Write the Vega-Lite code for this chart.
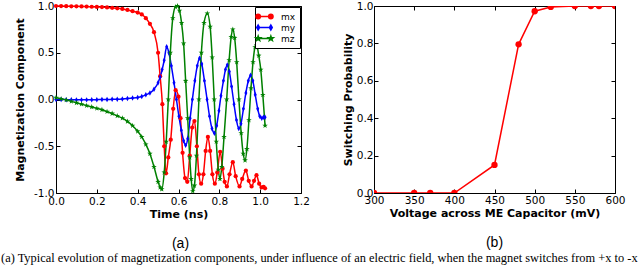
{
  "$schema": "https://vega.github.io/schema/vega-lite/v6.json",
  "background": "white",
  "padding": {"left": 1, "top": 0, "right": 0, "bottom": 0},
  "spacing": 31,
  "resolve": {"scale": {"color": "independent"}, "legend": {"color": "independent"}},
  "title": {
    "text": "(a) Typical evolution of magnetization components, under influence of an electric field, when the magnet switches from +x to -x",
    "orient": "bottom", "anchor": "start", "frame": "bounds",
    "font": "Liberation Serif", "fontSize": 12.4, "fontWeight": "normal", "color": "black",
    "offset": 1, "dx": -13
  },
  "datasets": {
    "mag": [
      {"t":0,"c":"mx","v":1.0},{"t":0.025,"c":"mx","v":0.999},{"t":0.05,"c":"mx","v":0.998},{"t":0.075,"c":"mx","v":0.997},{"t":0.1,"c":"mx","v":0.996},{"t":0.125,"c":"mx","v":0.995},{"t":0.15,"c":"mx","v":0.994},{"t":0.175,"c":"mx","v":0.992},{"t":0.2,"c":"mx","v":0.99},{"t":0.225,"c":"mx","v":0.988},{"t":0.25,"c":"mx","v":0.985},{"t":0.275,"c":"mx","v":0.98},{"t":0.3,"c":"mx","v":0.975},{"t":0.325,"c":"mx","v":0.968},{"t":0.35,"c":"mx","v":0.958},{"t":0.375,"c":"mx","v":0.945},{"t":0.4,"c":"mx","v":0.93},{"t":0.42,"c":"mx","v":0.91},{"t":0.44,"c":"mx","v":0.87},{"t":0.46,"c":"mx","v":0.81},{"t":0.48,"c":"mx","v":0.72},{"t":0.5,"c":"mx","v":0.5},{"t":0.51,"c":"mx","v":0.25},{"t":0.521,"c":"mx","v":-0.05},{"t":0.53,"c":"mx","v":-0.5},{"t":0.539,"c":"mx","v":-0.79},{"t":0.55,"c":"mx","v":-0.62},{"t":0.562,"c":"mx","v":-0.43},{"t":0.574,"c":"mx","v":-0.1},{"t":0.586,"c":"mx","v":0.1},{"t":0.6,"c":"mx","v":0.03},{"t":0.61,"c":"mx","v":-0.2},{"t":0.62,"c":"mx","v":-0.57},{"t":0.632,"c":"mx","v":-0.84},{"t":0.643,"c":"mx","v":-0.88},{"t":0.655,"c":"mx","v":-0.6},{"t":0.667,"c":"mx","v":-0.3},{"t":0.678,"c":"mx","v":-0.23},{"t":0.69,"c":"mx","v":-0.5},{"t":0.7,"c":"mx","v":-0.8},{"t":0.711,"c":"mx","v":-0.9},{"t":0.722,"c":"mx","v":-0.8},{"t":0.733,"c":"mx","v":-0.55},{"t":0.744,"c":"mx","v":-0.4},{"t":0.755,"c":"mx","v":-0.55},{"t":0.766,"c":"mx","v":-0.8},{"t":0.778,"c":"mx","v":-0.9},{"t":0.79,"c":"mx","v":-0.78},{"t":0.804,"c":"mx","v":-0.56},{"t":0.816,"c":"mx","v":-0.74},{"t":0.826,"c":"mx","v":-0.88},{"t":0.837,"c":"mx","v":-0.93},{"t":0.85,"c":"mx","v":-0.8},{"t":0.866,"c":"mx","v":-0.67},{"t":0.88,"c":"mx","v":-0.82},{"t":0.899,"c":"mx","v":-0.93},{"t":0.912,"c":"mx","v":-0.85},{"t":0.93,"c":"mx","v":-0.76},{"t":0.944,"c":"mx","v":-0.87},{"t":0.958,"c":"mx","v":-0.93},{"t":0.97,"c":"mx","v":-0.87},{"t":0.982,"c":"mx","v":-0.81},{"t":0.995,"c":"mx","v":-0.9},{"t":1.007,"c":"mx","v":-0.94},{"t":1.017,"c":"mx","v":-0.935},{"t":1.024,"c":"mx","v":-0.95},
      {"t":0,"c":"my","v":0.0},{"t":0.025,"c":"my","v":0.0},{"t":0.05,"c":"my","v":-0.002},{"t":0.075,"c":"my","v":-0.003},{"t":0.1,"c":"my","v":-0.004},{"t":0.125,"c":"my","v":-0.004},{"t":0.15,"c":"my","v":-0.004},{"t":0.175,"c":"my","v":-0.003},{"t":0.2,"c":"my","v":-0.002},{"t":0.225,"c":"my","v":0.0},{"t":0.25,"c":"my","v":0.0},{"t":0.275,"c":"my","v":0.002},{"t":0.3,"c":"my","v":0.003},{"t":0.325,"c":"my","v":0.006},{"t":0.35,"c":"my","v":0.01},{"t":0.375,"c":"my","v":0.015},{"t":0.4,"c":"my","v":0.022},{"t":0.42,"c":"my","v":0.033},{"t":0.44,"c":"my","v":0.05},{"t":0.46,"c":"my","v":0.07},{"t":0.48,"c":"my","v":0.11},{"t":0.5,"c":"my","v":0.18},{"t":0.51,"c":"my","v":0.24},{"t":0.52,"c":"my","v":0.32},{"t":0.53,"c":"my","v":0.42},{"t":0.542,"c":"my","v":0.565},{"t":0.553,"c":"my","v":0.5},{"t":0.565,"c":"my","v":0.36},{"t":0.578,"c":"my","v":0.18},{"t":0.59,"c":"my","v":0.0},{"t":0.602,"c":"my","v":-0.18},{"t":0.614,"c":"my","v":-0.33},{"t":0.625,"c":"my","v":-0.44},{"t":0.635,"c":"my","v":-0.49},{"t":0.645,"c":"my","v":-0.42},{"t":0.657,"c":"my","v":-0.2},{"t":0.668,"c":"my","v":0.0},{"t":0.68,"c":"my","v":0.2},{"t":0.692,"c":"my","v":0.36},{"t":0.703,"c":"my","v":0.44},{"t":0.714,"c":"my","v":0.38},{"t":0.727,"c":"my","v":0.2},{"t":0.74,"c":"my","v":0.0},{"t":0.752,"c":"my","v":-0.18},{"t":0.764,"c":"my","v":-0.31},{"t":0.776,"c":"my","v":-0.36},{"t":0.787,"c":"my","v":-0.28},{"t":0.798,"c":"my","v":-0.12},{"t":0.808,"c":"my","v":0.04},{"t":0.82,"c":"my","v":0.2},{"t":0.83,"c":"my","v":0.32},{"t":0.839,"c":"my","v":0.37},{"t":0.849,"c":"my","v":0.3},{"t":0.86,"c":"my","v":0.14},{"t":0.872,"c":"my","v":-0.05},{"t":0.884,"c":"my","v":-0.22},{"t":0.895,"c":"my","v":-0.31},{"t":0.906,"c":"my","v":-0.26},{"t":0.918,"c":"my","v":-0.1},{"t":0.93,"c":"my","v":0.07},{"t":0.942,"c":"my","v":0.2},{"t":0.953,"c":"my","v":0.26},{"t":0.964,"c":"my","v":0.2},{"t":0.976,"c":"my","v":0.05},{"t":0.988,"c":"my","v":-0.1},{"t":0.998,"c":"my","v":-0.18},{"t":1.008,"c":"my","v":-0.2},{"t":1.016,"c":"my","v":-0.19},{"t":1.024,"c":"my","v":-0.19},
      {"t":0,"c":"mz","v":0.02},{"t":0.025,"c":"mz","v":0.007},{"t":0.05,"c":"mz","v":-0.005},{"t":0.075,"c":"mz","v":-0.02},{"t":0.1,"c":"mz","v":-0.035},{"t":0.125,"c":"mz","v":-0.05},{"t":0.15,"c":"mz","v":-0.065},{"t":0.175,"c":"mz","v":-0.08},{"t":0.2,"c":"mz","v":-0.095},{"t":0.225,"c":"mz","v":-0.11},{"t":0.25,"c":"mz","v":-0.13},{"t":0.275,"c":"mz","v":-0.15},{"t":0.3,"c":"mz","v":-0.175},{"t":0.325,"c":"mz","v":-0.2},{"t":0.35,"c":"mz","v":-0.235},{"t":0.375,"c":"mz","v":-0.28},{"t":0.4,"c":"mz","v":-0.34},{"t":0.42,"c":"mz","v":-0.4},{"t":0.44,"c":"mz","v":-0.48},{"t":0.46,"c":"mz","v":-0.58},{"t":0.48,"c":"mz","v":-0.72},{"t":0.5,"c":"mz","v":-0.88},{"t":0.51,"c":"mz","v":-0.94},{"t":0.518,"c":"mz","v":-0.96},{"t":0.53,"c":"mz","v":-0.78},{"t":0.54,"c":"mz","v":-0.45},{"t":0.55,"c":"mz","v":0.0},{"t":0.56,"c":"mz","v":0.5},{"t":0.572,"c":"mz","v":0.87},{"t":0.585,"c":"mz","v":0.99},{"t":0.595,"c":"mz","v":1.0},{"t":0.605,"c":"mz","v":0.95},{"t":0.615,"c":"mz","v":0.82},{"t":0.625,"c":"mz","v":0.6},{"t":0.635,"c":"mz","v":0.2},{"t":0.645,"c":"mz","v":-0.2},{"t":0.655,"c":"mz","v":-0.62},{"t":0.662,"c":"mz","v":-0.85},{"t":0.67,"c":"mz","v":-0.98},{"t":0.678,"c":"mz","v":-0.92},{"t":0.688,"c":"mz","v":-0.6},{"t":0.7,"c":"mz","v":0.0},{"t":0.712,"c":"mz","v":0.5},{"t":0.725,"c":"mz","v":0.82},{"t":0.741,"c":"mz","v":0.92},{"t":0.755,"c":"mz","v":0.78},{"t":0.765,"c":"mz","v":0.45},{"t":0.775,"c":"mz","v":0.0},{"t":0.785,"c":"mz","v":-0.45},{"t":0.795,"c":"mz","v":-0.75},{"t":0.803,"c":"mz","v":-0.85},{"t":0.812,"c":"mz","v":-0.72},{"t":0.823,"c":"mz","v":-0.4},{"t":0.836,"c":"mz","v":0.0},{"t":0.848,"c":"mz","v":0.42},{"t":0.858,"c":"mz","v":0.67},{"t":0.866,"c":"mz","v":0.75},{"t":0.875,"c":"mz","v":0.66},{"t":0.885,"c":"mz","v":0.4},{"t":0.896,"c":"mz","v":0.0},{"t":0.907,"c":"mz","v":-0.36},{"t":0.917,"c":"mz","v":-0.58},{"t":0.926,"c":"mz","v":-0.65},{"t":0.935,"c":"mz","v":-0.53},{"t":0.945,"c":"mz","v":-0.22},{"t":0.955,"c":"mz","v":0.12},{"t":0.965,"c":"mz","v":0.4},{"t":0.975,"c":"mz","v":0.56},{"t":0.983,"c":"mz","v":0.58},{"t":0.993,"c":"mz","v":0.47},{"t":1.003,"c":"mz","v":0.32},{"t":1.013,"c":"mz","v":0.05},{"t":1.024,"c":"mz","v":-0.28}
    ],
    "sw": [
      {"V":300,"P":0},{"V":350,"P":0},{"V":370,"P":0},{"V":400,"P":0},{"V":450,"P":0.15},{"V":480,"P":0.795},{"V":500,"P":0.972},{"V":520,"P":0.995},{"V":550,"P":1},{"V":570,"P":1},{"V":580,"P":1},{"V":600,"P":1}
    ]
  },
  "hconcat": [
    {
      "width": 245,
      "height": 187,
      "title": {"text": "(a)", "orient": "bottom", "anchor": "middle", "frame": "group", "font": "Liberation Sans", "fontSize": 14, "fontWeight": "normal", "color": "black", "offset": 17, "dx": 2},
      "data": {"name": "mag"},
      "layer": [
        {
          "mark": {"type": "line", "interpolate": "monotone", "strokeWidth": 1.5},
          "encoding": {
            "x": {"field": "t", "type": "quantitative", "scale": {"domain": [0, 1.2], "nice": false, "zero": false},
                  "axis": {"title": "Time (ns)", "values": [0, 0.2, 0.4, 0.6, 0.8, 1.0, 1.2], "format": ".1f", "labelFlush": false, "labelPadding": 7, "titlePadding": 2}},
            "y": {"field": "v", "type": "quantitative", "scale": {"domain": [-1, 1], "nice": false, "zero": false},
                  "axis": {"title": "Magnetization Component", "values": [-1, -0.5, 0, 0.5, 1], "format": ".1f", "labelExpr": "replace(datum.label, '\u2212', '-')", "labelPadding": 6, "titlePadding": 8}},
            "color": {"field": "c", "type": "nominal", "scale": {"domain": ["mx", "my", "mz"], "range": ["#ff0000", "#0000ff", "#008000"]},
                      "legend": {"title": null, "orient": "top-right", "offset": 1, "padding": 4, "strokeColor": "black", "fillColor": "white", "cornerRadius": 0,
                                 "labelFont": "DejaVu Sans", "labelFontSize": 9, "labelColor": "black", "symbolSize": 81, "labelOffset": 11, "rowPadding": 0,
                                 "encode": {"symbols": {"update": {
                                   "shape": {"signal": "datum.value === 'mx' ? 'M-1.86,0L1.86,0M-0.92,0A0.49,0.49 0 1,0 -1.9,0A0.49,0.49 0 1,0 -0.92,0ZM1.9,0A0.49,0.49 0 1,0 0.92,0A0.49,0.49 0 1,0 1.9,0Z' : datum.value === 'my' ? 'M-1.86,0L1.86,0M-1.41,-0.55L-1.1,0L-1.41,0.55L-1.72,0ZM1.41,-0.55L1.72,0L1.41,0.55L1.1,0Z' : 'M-1.86,0L1.86,0M-1.41,-0.55L-1.281,-0.178L-0.887,-0.17L-1.201,0.068L-1.087,0.445L-1.41,0.22L-1.733,0.445L-1.619,0.068L-1.933,-0.17L-1.539,-0.178ZM1.41,-0.55L1.539,-0.178L1.933,-0.17L1.619,0.068L1.733,0.445L1.41,0.22L1.087,0.445L1.201,0.068L0.887,-0.17L1.281,-0.178Z'"},
                                   "fill": {"signal": "datum.value === 'mx' ? '#ff0000' : datum.value === 'my' ? '#0000ff' : '#008000'"},
                                   "stroke": {"signal": "datum.value === 'mx' ? '#ff0000' : datum.value === 'my' ? '#0000ff' : '#008000'"},
                                   "strokeWidth": {"value": 1.5},
                                   "opacity": {"value": 1}
                                 }}}}}
          }
        },
        {
          "transform": [{"filter": "datum.c === 'mx'"}],
          "mark": {"type": "point", "filled": true, "opacity": 1, "size": 18, "shape": "circle", "color": "#ff0000"},
          "encoding": {
            "x": {"field": "t", "type": "quantitative", "axis": {"orient": "top", "labels": false, "title": null, "values": [0, 0.2, 0.4, 0.6, 0.8, 1.0, 1.2]}},
            "y": {"field": "v", "type": "quantitative", "axis": {"orient": "right", "labels": false, "title": null, "values": [-1, -0.5, 0, 0.5, 1]}}
          }
        },
        {
          "transform": [{"filter": "datum.c === 'my'"}],
          "mark": {"type": "point", "filled": true, "opacity": 1, "size": 30, "shape": "M0,-1L0.55,0L0,1L-0.55,0Z", "color": "#0000ff"},
          "encoding": {
            "x": {"field": "t", "type": "quantitative", "axis": null},
            "y": {"field": "v", "type": "quantitative", "axis": null}
          }
        },
        {
          "transform": [{"filter": "datum.c === 'mz'"}],
          "mark": {"type": "point", "filled": true, "opacity": 1, "size": 34, "shape": "M0,-1L0.235,-0.324L0.951,-0.309L0.38,0.124L0.588,0.809L0,0.4L-0.588,0.809L-0.38,0.124L-0.951,-0.309L-0.235,-0.324Z", "color": "#008000"},
          "encoding": {
            "x": {"field": "t", "type": "quantitative", "axis": null},
            "y": {"field": "v", "type": "quantitative", "axis": null}
          }
        }
      ],
      "resolve": {"axis": {"x": "independent", "y": "independent"}}
    },
    {
      "width": 241,
      "height": 187,
      "title": {"text": "(b)", "orient": "bottom", "anchor": "middle", "frame": "group", "font": "Liberation Sans", "fontSize": 14, "fontWeight": "normal", "color": "black", "offset": 17, "dx": 0},
      "data": {"name": "sw"},
      "layer": [
        {
          "mark": {"type": "line", "color": "#ff0000", "strokeWidth": 1.5, "clip": true},
          "encoding": {
            "x": {"field": "V", "type": "quantitative", "scale": {"domain": [300, 600], "nice": false, "zero": false},
                  "axis": {"title": "Voltage across ME Capacitor (mV)", "values": [300, 350, 400, 450, 500, 550, 600], "format": "d", "labelFlush": false, "labelPadding": 6, "titlePadding": 2}},
            "y": {"field": "P", "type": "quantitative", "scale": {"domain": [0, 1], "nice": false, "zero": false},
                  "axis": {"title": "Switching Probability", "values": [0, 0.2, 0.4, 0.6, 0.8, 1.0], "format": ".1f", "labelPadding": 5, "titlePadding": 3}}
          }
        },
        {
          "mark": {"type": "point", "filled": true, "color": "#ff0000", "opacity": 1, "size": 40, "clip": true},
          "encoding": {
            "x": {"field": "V", "type": "quantitative", "axis": {"orient": "top", "labels": false, "title": null, "values": [300, 350, 400, 450, 500, 550, 600]}},
            "y": {"field": "P", "type": "quantitative", "axis": {"orient": "right", "labels": false, "title": null, "values": [0, 0.2, 0.4, 0.6, 0.8, 1.0]}}
          }
        }
      ],
      "resolve": {"axis": {"x": "independent", "y": "independent"}}
    }
  ],
  "config": {
    "view": {"stroke": "black", "strokeWidth": 1},
    "axis": {"domain": false, "grid": false, "ticks": true, "tickSize": -4, "tickColor": "black", "tickWidth": 1,
             "labelFont": "DejaVu Sans", "labelFontSize": 10.5, "labelColor": "black",
             "titleFont": "DejaVu Sans", "titleFontSize": 11, "titleFontWeight": "bold", "titleColor": "black"}
  }
}
